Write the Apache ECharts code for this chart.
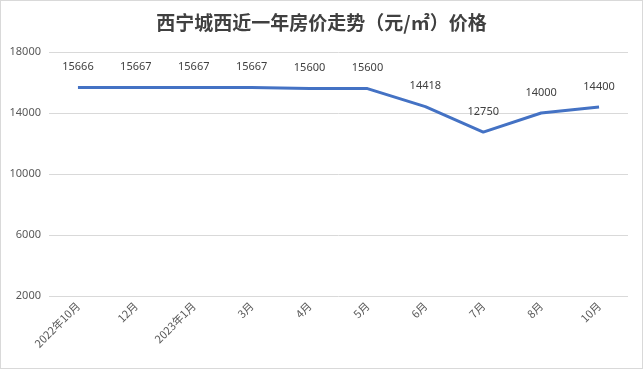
<!DOCTYPE html>
<html><head><meta charset="utf-8">
<script src="https://cdn.jsdelivr.net/npm/echarts@6/dist/echarts.min.js"></script>
<style>html,body{margin:0;padding:0;background:#fff}#c{width:641px;height:367px;border:1px solid #d9d9d9}</style>
</head><body><div id="c"></div>
<script>
const titleText = '西宁城西近一年房价走势（元/㎡）价格';
const categories = ['2022年10月','12月','2023年1月','3月','4月','5月','6月','7月','8月','10月'];
const prices = [15666, 15667, 15667, 15667, 15600, 15600, 14418, 12750, 14000, 14400];
const yMin = 2000, yMax = 18000, yStep = 4000;
const chart = echarts.init(document.getElementById('c'));
chart.setOption({
  animation: false,
  title: {text: titleText, left: 'center', top: 7,
    textStyle: {fontFamily: 'Noto Sans CJK SC', fontSize: 19, fontWeight: 'bold', color: '#404040'}},
  grid: {left: 48, right: 14, top: 51, bottom: 72},
  xAxis: {type: 'category', data: categories, boundaryGap: true,
    axisLine: {show: false}, axisTick: {show: false},
    axisLabel: {rotate: 45, color: '#595959', fontSize: 11, fontFamily: 'Noto Sans CJK SC', margin: 8}},
  yAxis: {type: 'value', min: yMin, max: yMax, interval: yStep,
    axisLine: {show: false}, axisTick: {show: false},
    axisLabel: {color: '#595959', fontSize: 11, fontFamily: 'Noto Sans', margin: 8, formatter: v => String(v)},
    splitLine: {lineStyle: {color: '#d9d9d9', width: 1}}},
  series: [{type: 'line', data: prices, symbol: 'circle', symbolSize: 2, showSymbol: true, showAllSymbol: true,
    itemStyle: {color: 'rgba(68,114,196,0)', borderWidth: 0},
    lineStyle: {color: '#4472C4', width: 3},
    label: {show: true, position: 'top', distance: 14, color: '#404040', fontSize: 11, fontFamily: 'Noto Sans'}}]
});
</script></body></html>
